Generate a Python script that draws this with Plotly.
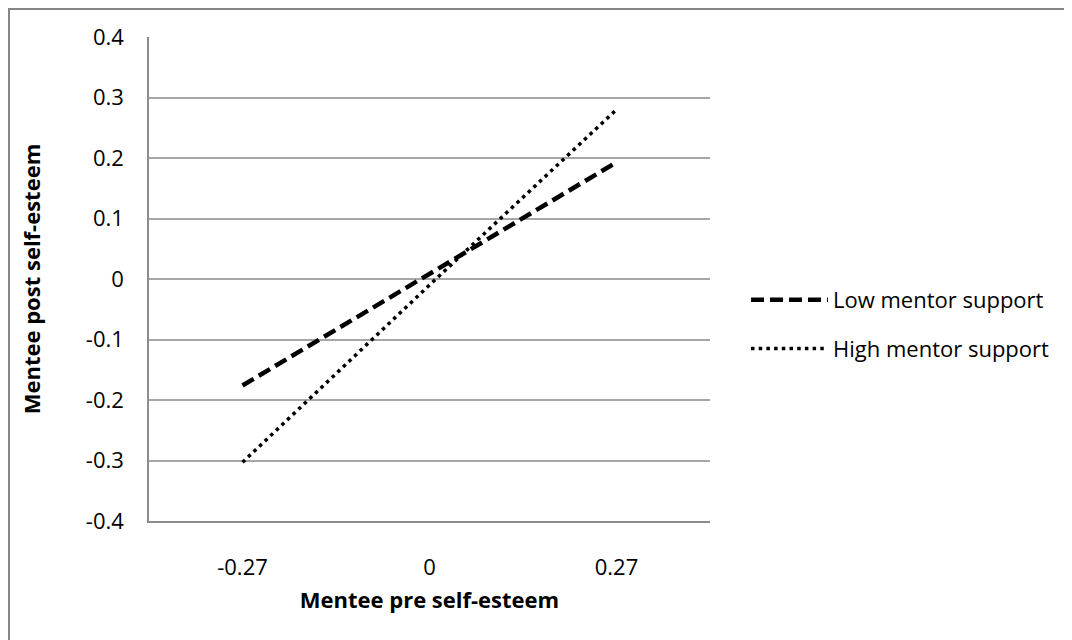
import plotly.graph_objects as go

categories = ["-0.27", "0", "0.27"]
low_support = [-0.176, 0.008, 0.193]
high_support = [-0.303, -0.01, 0.28]
series_names = ["Low mentor support", "High mentor support"]
y_ticks = [0.4, 0.3, 0.2, 0.1, 0, -0.1, -0.2, -0.3, -0.4]
y_tick_text = ["0.4", "0.3", "0.2", "0.1", "0", "-0.1", "-0.2", "-0.3", "-0.4"]

FONT = "Open Sans"
OFF = 8  # browser body margin
W, H = 1072 - OFF, 640 - OFF
L, R, T, B = 149 - OFF, 710 - OFF, 37 - OFF, 521 - OFF
pw, ph = R - L, B - T

fig = go.Figure()
fig.add_trace(go.Scatter(
    x=categories, y=low_support, name=series_names[0], mode="lines",
    line=dict(color="black", width=4.5, dash="13px,6px"), legendgroup="a"))
fig.add_trace(go.Scatter(
    x=categories, y=high_support, name=series_names[1], mode="lines",
    line=dict(color="black", width=3.5, dash="3.5px,4.2px"), legendgroup="b"))

def px_x(p):
    return (p - OFF - L) / pw

def px_y(p):
    return (B - (p - OFF)) / ph

fig.update_layout(
    width=W, height=H,
    margin=dict(l=L, r=W - R, t=T, b=H - B, autoexpand=False),
    paper_bgcolor="white", plot_bgcolor="white",
    font=dict(family=FONT, size=22, color="black"),
    showlegend=True,
    legend=dict(x=px_x(746), y=px_y(279), xanchor="left", yanchor="top",
                font=dict(family=FONT, size=22, color="black"),
                itemwidth=77, tracegroupgap=17, bgcolor="rgba(0,0,0,0)"),
    xaxis=dict(type="category", range=[-0.5, 2.5], showgrid=False,
               showline=True, linecolor="#8c8c8c", linewidth=1.5,
               ticks="", tickfont=dict(size=22), ticklabelstandoff=26,
               title=dict(text="<b>Mentee pre self-esteem</b>",
                          font=dict(size=22), standoff=12),
               zeroline=False, fixedrange=True),
    yaxis=dict(range=[-0.4, 0.4], tickvals=y_ticks, ticktext=y_tick_text,
               showgrid=True, gridcolor="#a6a6a6", gridwidth=1.5,
               showline=True, linecolor="#8c8c8c", linewidth=1.5,
               ticks="", tickfont=dict(size=22), ticklabelstandoff=19,
               title=dict(text="<b>Mentee post self-esteem</b>",
                          font=dict(size=22), standoff=39),
               zeroline=False, fixedrange=True),
    shapes=[dict(type="rect", xref="paper", yref="paper",
                 x0=px_x(9), x1=px_x(1100), y0=px_y(680), y1=px_y(9),
                 line=dict(color="#868686", width=2), fillcolor="rgba(0,0,0,0)",
                 layer="below")],
)

fig.write_html("out.html")
